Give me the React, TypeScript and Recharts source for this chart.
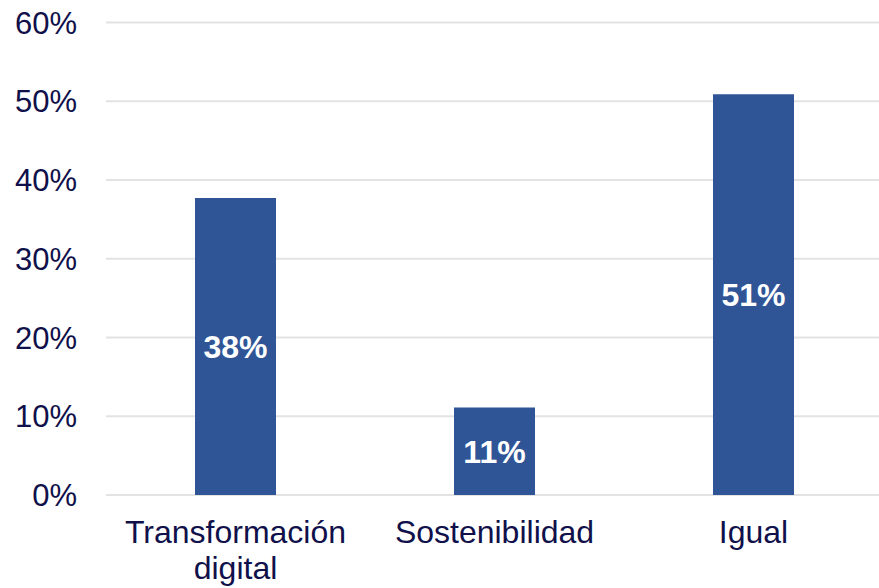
import { BarChart, Bar, XAxis, YAxis, CartesianGrid, LabelList } from "recharts";

const categories = ["Transformación digital", "Sostenibilidad", "Igual"];
const shares = [37.7, 11.1, 50.9];
const yTicks = [0, 10, 20, 30, 40, 50, 60];

const TEXT = "#10104a";
const BAR = "#2f5597";
const FONT = "Arial, 'Liberation Sans', sans-serif";

const data = categories.map((name, i) => ({ name, value: shares[i] }));

function CategoryTick(props: any) {
    const { x, y, payload } = props;
    const words = String(payload.value).split(" ");
    const lines = words.length > 1 && payload.value.length > 16 ? words : [payload.value];
    return (
        <text x={x} y={y} textAnchor="middle" fill={TEXT} fontSize={32} fontFamily={FONT}>
            {lines.map((line: string, i: number) => (
                <tspan key={i} x={x} dy={i === 0 ? 48 : 36}>
                    {line}
                </tspan>
            ))}
        </text>
    );
}

export default function App() {
    return (
        <div
            style={{
                position: "absolute",
                left: 0,
                top: 0,
                width: 879,
                height: 588,
                overflow: "hidden",
                background: "#fff",
            }}
        >
            <BarChart
                width={883}
                height={588}
                data={data}
                margin={{ top: 22.5, right: 0, left: 0, bottom: 0 }}
            >
                <CartesianGrid vertical={false} stroke="#e3e3e3" strokeWidth={2} />
                <XAxis
                    dataKey="name"
                    axisLine={false}
                    tickLine={false}
                    tickSize={0}
                    tickMargin={0}
                    height={93}
                    interval={0}
                    tick={<CategoryTick />}
                />
                <YAxis
                    width={106}
                    domain={[0, 60]}
                    ticks={yTicks}
                    axisLine={false}
                    tickLine={false}
                    tickSize={0}
                    tickMargin={29}
                    tickFormatter={(v) => `${v}%`}
                    tick={{ fill: TEXT, fontSize: 31, fontFamily: FONT }}
                />
                <Bar dataKey="value" fill={BAR} barSize={81} isAnimationActive={false}>
                    <LabelList
                        dataKey="value"
                        position="center"
                        formatter={(v: any) => `${Math.round(v)}%`}
                        fill="#ffffff"
                        fontSize={32}
                        fontWeight="bold"
                        fontFamily={FONT}
                    />
                </Bar>
            </BarChart>
        </div>
    );
}
